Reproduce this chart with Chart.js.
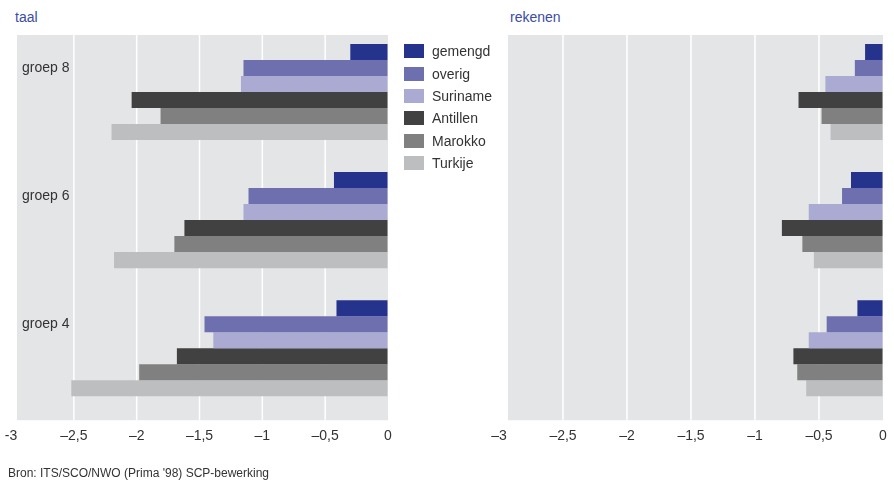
<!DOCTYPE html>
<html>
<head>
<meta charset="utf-8">
<script src="https://cdn.jsdelivr.net/npm/chart.js@4"></script>
<style>
  html, body { margin: 0; padding: 0; background: #ffffff; }
  body { width: 894px; height: 483px; position: relative; overflow: hidden;
         font-family: "Liberation Sans", Arial, Helvetica, sans-serif; color: #333; }
  .title { position: absolute; top: 9px; font-size: 14px; color: #3b4ca3; }
  #wrapL { position: absolute; left: 0; top: 0; width: 400px; height: 483px; }
  #wrapR { position: absolute; left: 450px; top: 0; width: 444px; height: 483px; }
  #legend { position: absolute; left: 404px; top: 40px; }
  .li { height: 22.4px; display: flex; align-items: center; font-size: 14px; color: #333; }
  .sw { width: 20px; height: 14px; margin-right: 8px; }
  #source { position: absolute; left: 8px; top: 466px; font-size: 12px; color: #333; }
</style>
</head>
<body>
<div class="title" style="left:15px">taal</div>
<div class="title" style="left:510px">rekenen</div>
<div id="wrapL"><canvas id="cL"></canvas></div>
<div id="wrapR"><canvas id="cR"></canvas></div>
<div id="legend"></div>
<div id="source">Bron: ITS/SCO/NWO (Prima '98) SCP-bewerking</div>
<script>
// ---- data ----
const categories = ['groep 8', 'groep 6', 'groep 4'];
const seriesNames = ['gemengd', 'overig', 'Suriname', 'Antillen', 'Marokko', 'Turkije'];
const seriesColors = ['#25338c', '#6e6fae', '#aaaad2', '#414141', '#808080', '#bdbec0'];

const taalGemengd  = [-0.30, -0.43, -0.41];
const taalOverig   = [-1.15, -1.11, -1.46];
const taalSuriname = [-1.17, -1.15, -1.39];
const taalAntillen = [-2.04, -1.62, -1.68];
const taalMarokko  = [-1.81, -1.70, -1.98];
const taalTurkije  = [-2.20, -2.18, -2.52];

const rekenenGemengd  = [-0.14, -0.25, -0.20];
const rekenenOverig   = [-0.22, -0.32, -0.44];
const rekenenSuriname = [-0.45, -0.58, -0.58];
const rekenenAntillen = [-0.66, -0.79, -0.70];
const rekenenMarokko  = [-0.48, -0.63, -0.67];
const rekenenTurkije  = [-0.41, -0.54, -0.60];

const tickLabelsTaal    = ['-3', '\u20132,5', '\u20132', '\u20131,5', '\u20131', '\u20130,5', '0'];
const tickLabelsRekenen = ['\u20133', '\u20132,5', '\u20132', '\u20131,5', '\u20131', '\u20130,5', '0'];

const FONT = '"Liberation Sans", Arial, Helvetica, sans-serif';

// legend
const leg = document.getElementById('legend');
seriesNames.forEach((n, i) => {
  const d = document.createElement('div'); d.className = 'li';
  const s = document.createElement('span'); s.className = 'sw'; s.style.background = seriesColors[i];
  d.appendChild(s); d.appendChild(document.createTextNode(n));
  leg.appendChild(d);
});

const panelPlugin = {
  id: 'panel',
  beforeDatasetsDraw(chart, args, opts) {
    const { ctx, chartArea } = chart;
    const xs = chart.scales.x;
    const top = chartArea.top + 7, bottom = chartArea.bottom + 8;
    const left = xs.getPixelForValue(opts.bgStart);
    ctx.save();
    ctx.fillStyle = '#e4e5e7';
    ctx.fillRect(left, top, chartArea.right - left, bottom - top);
    ctx.strokeStyle = '#ffffff';
    ctx.lineWidth = 1.5;
    xs.ticks.forEach(t => {
      if (t.value > xs.min && t.value < xs.max) {
        const x = xs.getPixelForValue(t.value);
        ctx.beginPath(); ctx.moveTo(x, top); ctx.lineTo(x, bottom); ctx.stroke();
      }
    });
    ctx.restore();
  },
  afterDraw(chart, args, opts) {
    if (!opts.showLabels) return;
    const { ctx } = chart;
    const meta = chart.getDatasetMeta(1);
    ctx.save();
    ctx.font = '14px ' + FONT;
    ctx.fillStyle = '#333';
    ctx.textBaseline = 'middle';
    ctx.textAlign = 'left';
    categories.forEach((c, i) => {
      ctx.fillText(c, 22, meta.data[i].y);
    });
    ctx.restore();
  }
};

function makeChart(id, seriesData, tickLabels, showLabels, padL, padR, bgStart) {
  const datasets = seriesData.map((d, i) => ({
    label: seriesNames[i], data: d, backgroundColor: seriesColors[i],
    borderWidth: 0, categoryPercentage: 0.75, barPercentage: 1.0
  }));
  return new Chart(document.getElementById(id), {
    type: 'bar',
    data: { labels: categories, datasets },
    options: {
      indexAxis: 'y',
      responsive: true, maintainAspectRatio: false, animation: false,
      layout: { padding: { top: 28, left: padL, right: padR, bottom: 38 } },
      plugins: { legend: { display: false }, tooltip: { enabled: false }, panel: { showLabels, bgStart } },
      scales: {
        x: {
          min: -3, max: 0,
          grid: { display: true, color: 'rgba(0,0,0,0)', drawOnChartArea: false, drawTicks: true, tickLength: 16 },
          border: { display: false },
          ticks: {
            stepSize: 0.5, padding: 0, color: '#333', maxRotation: 0, autoSkip: false,
            font: { family: FONT, size: 14 },
            callback: (v, i) => tickLabels[i]
          }
        },
        y: { display: false, offset: true }
      }
    },
    plugins: [panelPlugin]
  });
}

makeChart('cL', [taalGemengd, taalOverig, taalSuriname, taalAntillen, taalMarokko, taalTurkije],
          tickLabelsTaal, true, 11, 12, -2.952);
makeChart('cR', [rekenenGemengd, rekenenOverig, rekenenSuriname, rekenenAntillen, rekenenMarokko, rekenenTurkije],
          tickLabelsRekenen, false, 49, 11, -2.93);
</script>
</body>
</html>
